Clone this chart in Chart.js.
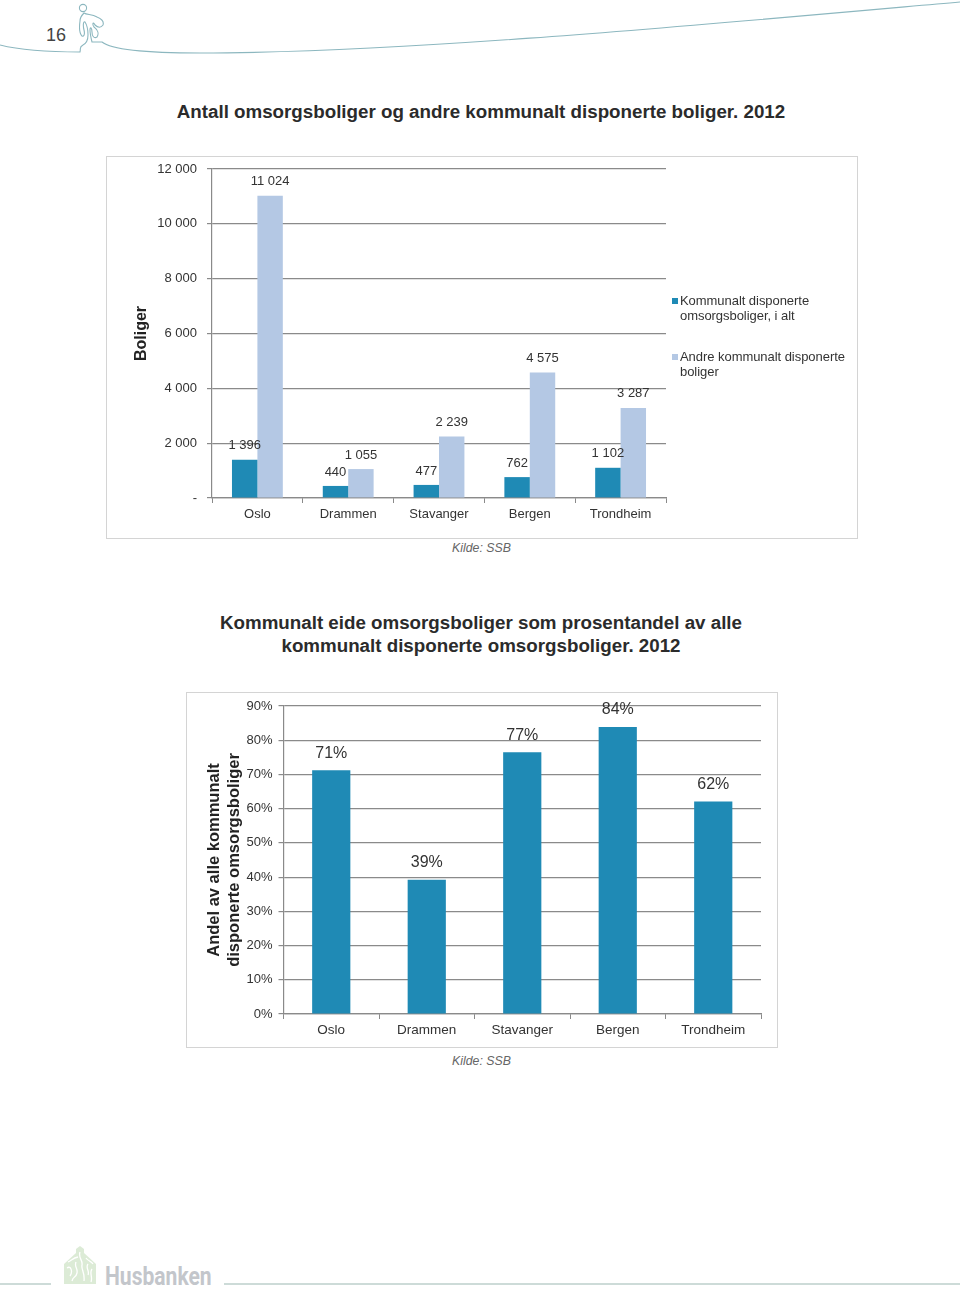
<!DOCTYPE html>
<html lang="no">
<head>
<meta charset="utf-8">
<title>Omsorgsboliger 2012</title>
<script src="https://cdn.jsdelivr.net/npm/chart.js@4"></script>
<style>
    html, body { margin: 0; padding: 0; background: #fff; }
    body { position: relative; width: 960px; height: 1289px; overflow: hidden; font-family: "Liberation Sans", Arial, sans-serif; }
    .pos { position: absolute; white-space: nowrap; }
    .heading { left: 0; width: 962px; text-align: center; font-weight: bold; font-size: 18.75px; line-height: 23px; color: #2b2b2b; }
    .source { left: 0; width: 963px; text-align: center; font-style: italic; font-size: 12.3px; color: #666; }
    .frame { position: absolute; border: 1px solid #d4d4d4; box-sizing: border-box; }
    canvas { position: absolute; left: 0; top: 0; }
    .legend { font-size: 13px; line-height: 14.5px; color: #333; letter-spacing: -0.05px; }
    .swatch { position: absolute; width: 6px; height: 6px; }
</style>
</head>
<body>

<!-- page header -->
<svg class="pos" style="left:0;top:0" width="960" height="60" fill="none" stroke="#8cb7bf" stroke-width="1.1">
    <circle cx="83" cy="8" r="3.6"/>
    <path d="M0,45 C20,50 50,52 80,52 C81,48 79,47 83,45 C87,43 88,40 88,35 C88,29 87,25 85,22 C83,21 83,26 84,30 C85,34 84,37 82,36 C80,34 79,28 80,21 C80,17 82,15 84,13 C87,15 92,14 97,17 C102,19 104,22 103,25 C101,28 98,28 95,25 C93,21 92,24 94,27 C98,30 99,34 97,37 C94,39 92,36 92,32 C92,28 90,26 90,30 C90,34 91,38 92,42 L102,42 C108,47 125,53 200,53 C400,53 700,25 960,2"/>
</svg>
<div class="pos" style="left:46px;top:25px;font-size:18px;color:#444">16</div>

<div class="pos heading" style="top:100px">Antall omsorgsboliger og andre kommunalt disponerte boliger. 2012</div>

<div class="frame" style="left:106px;top:156px;width:752px;height:383px"></div>
<div class="pos" style="left:107px;top:157px;width:750px;height:381px"><canvas id="housingChart" width="750" height="381"></canvas></div>

<div class="swatch" style="left:672px;top:298px;background:#1f8ab5"></div>
<div class="pos legend" style="left:680px;top:294px">Kommunalt disponerte<br>omsorgsboliger, i alt</div>
<div class="swatch" style="left:672px;top:354px;background:#b4c8e4"></div>
<div class="pos legend" style="left:680px;top:350px">Andre kommunalt disponerte<br>boliger</div>

<div class="pos source" style="top:541px">Kilde: SSB</div>

<div class="pos heading" style="top:611px">Kommunalt eide omsorgsboliger som prosentandel av alle<br>kommunalt disponerte omsorgsboliger. 2012</div>

<div class="frame" style="left:186px;top:692px;width:592px;height:356px"></div>
<div class="pos" style="left:187px;top:693px;width:590px;height:354px"><canvas id="shareChart" width="590" height="354"></canvas></div>

<div class="pos source" style="top:1054px">Kilde: SSB</div>

<!-- page footer -->
<svg class="pos" style="left:0;top:1240px" width="960" height="49" fill="none">
    <path d="M0,44 H51 M224,44 H960" stroke="#bdd0cc" stroke-width="1.4"/>
    <path d="M64,44 V24 L76,13 V9 L80,6 L84,9 V13 L96,24 V44 Z" fill="#dcebd6"/>
    <path d="M67,28 C71,25 73,32 70,36 M72,41 C73,36 76,38 77,33 C78,28 74,27 76,22 M80,12 C78,18 83,20 82,25 C81,30 85,32 84,41 M88,24 C85,28 90,31 88,35 M92,29 C89,33 93,37 91,42 M68,22 C72,20 73,18 78,17 M86,18 C88,21 91,21 93,24" stroke="#fff" stroke-width="1.3"/>
</svg>
<div class="pos" style="left:105px;top:1261px;font-family:Roboto,sans-serif;font-weight:700;font-size:26px;color:#c3c6cb;transform:scaleX(.81);transform-origin:left top">Husbanken</div>

<script>
const cities = ['Oslo', 'Drammen', 'Stavanger', 'Bergen', 'Trondheim'];

// first chart
const disposedCare = [1396, 440, 477, 762, 1102];
const otherDisposed = [11024, 1055, 2239, 4575, 3287];
const housingTicks = ['-', '2 000', '4 000', '6 000', '8 000', '10 000', '12 000'];

// second chart
const ownedShare = [71.2, 39.2, 76.5, 83.9, 62.1];
const shareTicks = ['0%', '10%', '20%', '30%', '40%', '50%', '60%', '70%', '80%', '90%'];

const darkBlue = '#1f8ab5';
const lightBlue = '#b4c8e4';
const axisGrey = '#8a8a8a';
const textColor = '#333';
const fontFamily = '"Liberation Sans", Arial, sans-serif';

Chart.defaults.animation = false;
Chart.defaults.font.family = fontFamily;

function spaced(n) {
    return String(n).replace(/\B(?=(\d{3})+$)/g, ' ');
}

// value labels over the bars
const barLabels = {
    id: 'barLabels',
    afterDatasetsDraw(chart, args, opts) {
        const ctx = chart.ctx;
        ctx.save();
        ctx.font = opts.size + 'px ' + fontFamily;
        ctx.fillStyle = textColor;
        ctx.textAlign = 'center';
        ctx.textBaseline = 'middle';
        chart.data.datasets.forEach((ds, i) => {
            chart.getDatasetMeta(i).data.forEach((bar, j) => {
                ctx.fillText(opts.format(ds.data[j]), bar.x, bar.y - opts.offset);
            });
        });
        ctx.restore();
    }
};

function axisOptions(leftWidth, bottomHeight, tickSize, labelGap) {
    return {
        x: {
            grid: { offset: true, drawOnChartArea: false, color: axisGrey, tickLength: 5 },
            border: { color: axisGrey, width: 1.2 },
            ticks: { color: textColor, font: { size: tickSize }, padding: labelGap, maxRotation: 0 },
            afterFit(scale) {
                scale.height = bottomHeight;
                scale.paddingLeft = 0;
                scale.paddingRight = 0;
            }
        },
        y: {
            min: 0,
            grid: { color: axisGrey, lineWidth: 1.2, tickLength: 5 },
            border: { color: axisGrey, width: 1.2 },
            afterFit(scale) {
                scale.width = leftWidth;
                scale.paddingTop = 0;
                scale.paddingBottom = 0;
            }
        }
    };
}

const housingScales = axisOptions(105, 40, 13, 4);
housingScales.y.max = 12000;
housingScales.y.ticks = {
    stepSize: 2000, color: textColor, font: { size: 13 }, padding: 10,
    callback: (v, i) => housingTicks[i]
};
housingScales.y.title = {
    display: true, text: 'Boliger', color: '#222',
    font: { size: 16, weight: 'bold' }, padding: { top: 25, bottom: 0 }
};

new Chart(document.getElementById('housingChart'), {
    type: 'bar',
    data: {
        labels: cities,
        datasets: [
            { label: 'Kommunalt disponerte omsorgsboliger, i alt', data: disposedCare, backgroundColor: darkBlue },
            { label: 'Andre kommunalt disponerte boliger', data: otherDisposed, backgroundColor: lightBlue }
        ]
    },
    options: {
        responsive: false,
        categoryPercentage: 0.56,
        barPercentage: 1,
        layout: { padding: { top: 12, right: 191, bottom: 0, left: 0 } },
        plugins: {
            legend: { display: false },
            tooltip: { enabled: false },
            barLabels: { size: 13, offset: 14, format: spaced }
        },
        scales: housingScales
    },
    plugins: [barLabels]
});

const shareScales = axisOptions(96.5, 33, 13.5, 3);
shareScales.y.max = 90;
shareScales.y.ticks = {
    stepSize: 10, color: textColor, font: { size: 13 }, padding: 6,
    callback: (v, i) => shareTicks[i]
};
shareScales.y.title = {
    display: true, text: ['Andel av alle kommunalt', 'disponerte omsorgsboliger'], color: '#222',
    font: { size: 16.5, weight: 'bold', lineHeight: 1.17 }, padding: { top: 18, bottom: 0 }
};

new Chart(document.getElementById('shareChart'), {
    type: 'bar',
    data: {
        labels: cities,
        datasets: [
            { label: 'Andel', data: ownedShare, backgroundColor: darkBlue }
        ]
    },
    options: {
        responsive: false,
        categoryPercentage: 1,
        barPercentage: 0.4,
        layout: { padding: { top: 13, right: 16, bottom: 0, left: 0 } },
        plugins: {
            legend: { display: false },
            tooltip: { enabled: false },
            barLabels: { size: 16, offset: 17, format: v => Math.round(v) + '%' }
        },
        scales: shareScales
    },
    plugins: [barLabels]
});
</script>
</body>
</html>
